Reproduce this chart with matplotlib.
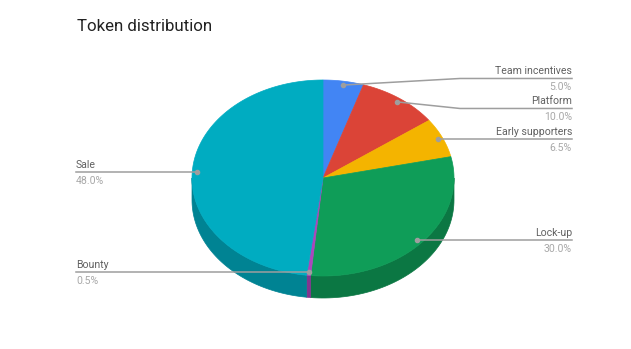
import numpy as np
import matplotlib
matplotlib.use("Agg")
import matplotlib.pyplot as plt
from matplotlib.patches import Polygon

# data
labels = ["Team incentives", "Platform", "Early supporters", "Lock-up", "Bounty", "Sale"]
shares = [5.0, 10.0, 6.5, 30.0, 0.5, 48.0]
top_colors = ["#4285F4", "#DB4437", "#F4B400", "#0F9D58", "#AB47BC", "#00ACC1"]
side_colors = ["#3266BB", "#A7342A", "#BA8900", "#0B7743", "#82368F", "#008393"]

# geometry (pixels)
W, H = 631, 349
cx, cy, rx, ry, depth = 323, 178, 131, 98, 22

plt.rcParams['font.family'] = ['Roboto', 'DejaVu Sans']
fig = plt.figure(figsize=(W / 100, H / 100), dpi=100)
ax = fig.add_axes([0, 0, 1, 1])
ax.set_xlim(0, W)
ax.set_ylim(H, 0)
ax.axis("off")


def pt(t, f=1.0, dy=0.0):
    r = np.radians(t)
    return cx + f * rx * np.sin(r), cy - f * ry * np.cos(r) + dy


fr = np.array(shares) / sum(shares)
bounds = np.concatenate([[0], np.cumsum(fr) * 360])

# side walls (only front half visible)
for i in range(len(shares)):
    a, b = max(bounds[i], 90), min(bounds[i + 1], 270)
    if b <= a:
        continue
    ts = np.linspace(a, b, 60)
    upper = [pt(t) for t in ts]
    lower = [pt(t, dy=depth) for t in ts[::-1]]
    ax.add_patch(Polygon(upper + lower, closed=True, fc=side_colors[i],
                         ec=side_colors[i], lw=0.5))

# top face
for i in range(len(shares)):
    ts = np.linspace(bounds[i], bounds[i + 1], max(int((bounds[i + 1] - bounds[i]) * 2), 3))
    poly = [(cx, cy)] + [pt(t) for t in ts]
    ax.add_patch(Polygon(poly, closed=True, fc=top_colors[i], ec=top_colors[i], lw=0.5))

# leader lines & labels
gray = "#9E9E9E"
right_x, left_x = 572, 76
mids = (bounds[:-1] + bounds[1:]) / 2
dots = [pt(m, 0.96) for m in mids]
right = [i for i in range(len(shares)) if mids[i] < 180]
left = [i for i in range(len(shares)) if mids[i] >= 180]

line_y = {i: dots[i][1] for i in range(len(shares))}
for side in (right, left):
    order = sorted(side, key=lambda i: dots[i][1])
    for a, b in zip(order, order[1:]):
        if line_y[b] - line_y[a] < 30:
            m = (line_y[a] + line_y[b]) / 2
            line_y[a], line_y[b] = m - 15, m + 15

for i in range(len(shares)):
    dx, dy = dots[i]
    ly = line_y[i]
    ax.plot(dx, dy, "o", ms=3, color=gray, zorder=5)
    if i in right:
        xs = [dx, 460, right_x] if abs(ly - dy) > 1 else [dx, right_x]
        ys = [dy, ly, ly] if abs(ly - dy) > 1 else [ly, ly]
        tx, ha = right_x, "right"
    else:
        xs, ys = [dx, left_x], [ly, ly]
        tx, ha = left_x, "left"
    ax.plot(xs, ys, color=gray, lw=1.1, zorder=4)
    ax.text(tx, ly - 2, labels[i], ha=ha, va="bottom", fontsize=7.6, color="#616161")
    ax.text(tx, ly + 4, "%.1f%%" % shares[i], ha=ha, va="top", fontsize=7.6, color="#A8A8A8")

ax.text(77, 31, "Token distribution", ha="left", va="baseline", fontsize=12.2, color="#222222")

fig.savefig("out.png", dpi=100)
